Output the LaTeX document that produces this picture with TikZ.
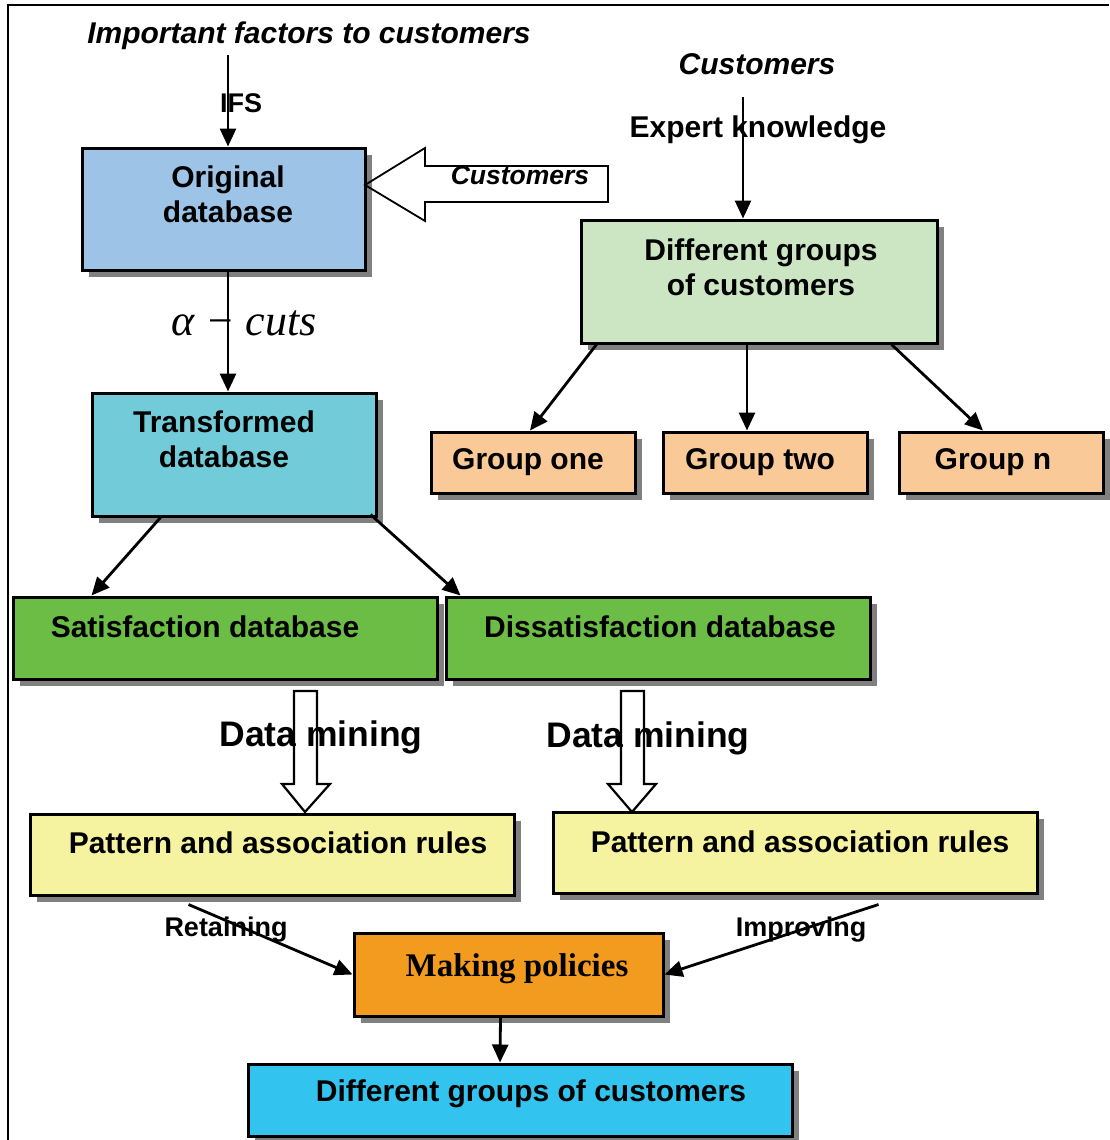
\documentclass[tikz,border=0pt]{standalone}
\usepackage{fontspec}
\setmainfont{Liberation Sans}
\newfontfamily\timesf{Liberation Serif}
\usetikzlibrary{arrows.meta,shadows,calc}

\definecolor{origblue}{RGB}{157,195,230}
\definecolor{groupsgreen}{RGB}{204,230,196}
\definecolor{transcyan}{RGB}{113,203,217}
\definecolor{grouppeach}{RGB}{250,201,152}
\definecolor{satgreen}{RGB}{108,189,69}
\definecolor{ruleyellow}{RGB}{245,242,160}
\definecolor{policyorange}{RGB}{243,155,31}
\definecolor{finalblue}{RGB}{51,195,239}
\definecolor{shadowgray}{RGB}{128,128,128}

\tikzset{
  box/.style={draw=black, line width=3pt, inner sep=0pt,
    drop shadow={shadow xshift=7pt, shadow yshift=-7pt, fill=shadowgray, opacity=1}},
  lbl/.style={font=\fontsize{30}{35}\selectfont\bfseries, align=center, inner sep=0pt},
  side/.style={font=\fontsize{27}{31}\selectfont\bfseries, inner sep=0pt},
  arr/.style={-{Triangle[length=18pt,width=16pt]}, line width=2.8pt},
  hollow/.style={line width=2.2pt, fill=none}
}

\begin{document}
\begin{tikzpicture}[x=1pt,y=-1pt]
        \useasboundingbox (0,0) rectangle (1109,1140);
        \draw [line width=2.2pt] (8,1140) -- (8,5) -- (1109,5);
        %boxes
        \node [box, fill=origblue, minimum width=283pt, minimum height=122pt] (orig) at (223.5,209) {};
        \node [box, fill=groupsgreen, minimum width=356pt, minimum height=123pt] (dg) at (759,281.5) {};
        \node [box, fill=transcyan, minimum width=284pt, minimum height=123pt] (trans) at (234,454.5) {};
        \node [box, fill=grouppeach, minimum width=204pt, minimum height=61pt] (g1) at (533,462.5) {};
        \node [box, fill=grouppeach, minimum width=204pt, minimum height=61pt] (g2) at (765,462.5) {};
        \node [box, fill=grouppeach, minimum width=204pt, minimum height=61pt] (gn) at (1001,462.5) {};
        \node [box, fill=satgreen, minimum width=424pt, minimum height=82pt] (sat) at (225,638) {};
        \node [box, fill=satgreen, minimum width=424pt, minimum height=82pt] (dis) at (658,638) {};
        \node [box, fill=ruleyellow, minimum width=484pt, minimum height=81pt] (pat1) at (272,854.5) {};
        \node [box, fill=ruleyellow, minimum width=484pt, minimum height=81pt] (pat2) at (795,852.5) {};
        \node [box, fill=policyorange, minimum width=309pt, minimum height=83pt] (policy) at (508.5,974.5) {};
        \node [box, fill=finalblue, minimum width=544pt, minimum height=72pt] (final) at (520,1100) {};
        %texts in boxes
        \node [lbl] (origtxt) at (228,194.5) {Original\\database};
        \node [lbl] (dgtxt) at (761,267) {Different groups\\of customers};
        \node [lbl] (transtxt) at (224,439.5) {Transformed\\database};
        \node [lbl] (g1txt) at (528,462) {Group one};
        \node [lbl] (g2txt) at (760,462) {Group two};
        \node [lbl] (gntxt) at (993,462) {Group n};
        \node [lbl] (sattxt) at (205,627) {Satisfaction database};
        \node [lbl] (distxt) at (660,627) {Dissatisfaction database};
        \node [lbl] (pat1txt) at (278,843) {Pattern and association rules};
        \node [lbl] (pat2txt) at (800,842) {Pattern and association rules};
        \node [lbl, font=\fontsize{33}{38}\selectfont\timesf\bfseries] (policytxt) at (517,969) {Making policies};
        \node [lbl] (finaltxt) at (531,1094) {Different groups of customers};
        %IFS
        \node [lbl, font=\fontsize{30}{35}\selectfont\bfseries\itshape] (imp) at (309,36) {Important factors to customers};
        \coordinate (ifs) at (228,55);
        \draw [arr] (ifs) -- (ifs |- orig.north);
        \node [lbl, font=\fontsize{27}{32}\selectfont\bfseries] (ifstxt) at (241,103) {IFS};
        %Customers (hollow arrow)
        \draw [line width=1.8pt] (365,185) -- (425,148) -- (425,166) -- (608,166) -- (608,202) -- (425,202) -- (425,221) -- cycle;
        \node [lbl, font=\fontsize{26.5}{30}\selectfont\bfseries\itshape] (custarrow) at (520,175) {Customers};
        %Expert knowledge
        \node [lbl, font=\fontsize{30}{35}\selectfont\bfseries\itshape] (cust) at (757,64) {Customers};
        \coordinate (expert) at (743,97);
        \draw [arr] (expert) -- (expert |- dg.north);
        \node [lbl, font=\fontsize{30}{35}\selectfont\bfseries] (experttxt) at (758,130) {Expert knowledge};
        %alpha-cuts
        \draw [arr] (orig.south -| ifs) -- (trans.north -| ifs);
        \node [anchor=base, inner sep=0pt, font=\fontsize{44}{50}\selectfont\timesf\itshape] (cuts) at (244,335) {α − cuts};
        %groups
        \draw [arr] ($(dg.south west)+(17,0)$) -- ($(g1.north)+(-3,0)$);
        \draw [arr] ($(dg.south)+(-12,0)$) -- ($(g2.north)+(-18,0)$);
        \draw [arr] ($(dg.south east)+(-47,0)$) -- ($(gn.north)+(-18,0)$);
        %satisfaction
        \draw [arr] ($(trans.south west)+(70,0)$) -- ($(sat.north west)+(80,0)$);
        \draw [arr] ($(trans.south east)+(-7,-3)$) -- ($(dis.north west)+(16,0)$);
        %data mining
        \node [lbl, font=\fontsize{35.5}{40}\selectfont\bfseries] (dm1) at (321,737) {Data mining};
        \node [lbl, font=\fontsize{35.5}{40}\selectfont\bfseries] (dm2) at (648,738) {Data mining};
        \draw [hollow] (294,691) -- (317,691) -- (317,784) -- (330,784) -- (305,812) -- (282,784) -- (294,784) -- cycle;
        \draw [hollow] (621,691) -- (644,691) -- (644,784) -- (656,784) -- (632,812) -- (608,784) -- (621,784) -- cycle;
        %policies
        \draw [arr] ($(pat1.south west)+(160,8)$) -- (policy.west);
        \node [side] (retain) at (226,930) {Retaining};
        \draw [arr] ($(pat2.south west)+(327,10)$) -- (policy.east);
        \node [side] (improve) at (801,930) {Improving};
        \draw [arr] ($(policy.south)+(-8,0)$) -- ($(final.north)+(-20,0)$);
\end{tikzpicture}
\end{document}
